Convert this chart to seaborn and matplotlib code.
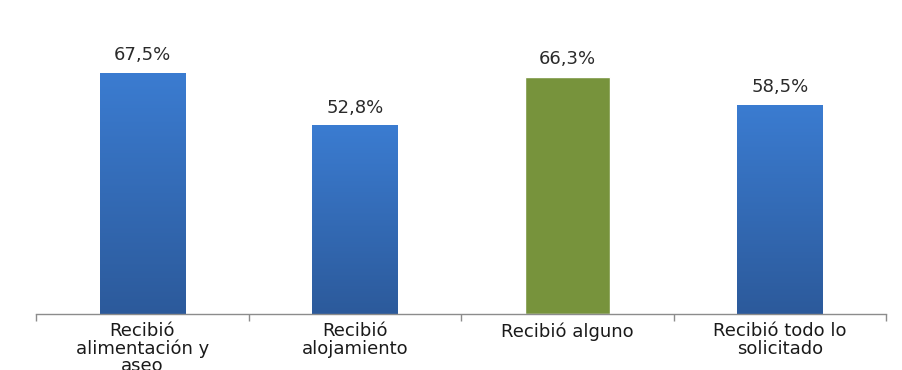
import numpy as np
import pandas as pd
import matplotlib
matplotlib.use('Agg')
import matplotlib.pyplot as plt
import seaborn as sns

categorias = ['Recibió\nalimentación y\naseo', 'Recibió\nalojamiento', 'Recibió alguno', 'Recibió todo lo\nsolicitado']
valores = [67.5, 52.8, 66.3, 58.5]
etiquetas = ['67,5%', '52,8%', '66,3%', '58,5%']
colores = ['#3474c6', '#3474c6', '#77933c', '#3474c6']

sns.set_theme(style='white')
plt.rcParams['font.family'] = ['DejaVu Sans']

df = pd.DataFrame({'cat': categorias, 'val': valores})

fig = plt.figure(figsize=(9.02, 3.70), dpi=100)
ax = fig.add_axes([0.0399, 0.1514, 0.9424, 0.7729])

sns.barplot(data=df, x='cat', y='val', hue='cat', palette=colores, legend=False,
            width=0.4, saturation=1, ax=ax)

# degradado vertical en las barras azules
grad_blue = matplotlib.colors.LinearSegmentedColormap.from_list('b', ['#2c5a9b', '#3b7cd1'])
for patch, col in zip(ax.patches, colores):
    if col != '#3474c6':
        continue
    x0, y0 = patch.get_x(), patch.get_y()
    w, h = patch.get_width(), patch.get_height()
    img = ax.imshow(np.linspace(0, 1, 256).reshape(-1, 1), cmap=grad_blue, origin='lower',
                    extent=[x0, x0 + w, y0, y0 + h], aspect='auto', zorder=patch.get_zorder() + 0.1)
    img.set_clip_path(patch)

ax.set_xlim(-0.5, 3.5)
ax.set_ylim(0, 80)

for i, (v, t) in enumerate(zip(valores, etiquetas)):
    ax.text(i, v + 2.4, t, ha='center', va='bottom', fontsize=13, color='#2a2a2a')

for s in ['top', 'right', 'left']:
    ax.spines[s].set_visible(False)
ax.spines['bottom'].set_color('#8c8c8c')
ax.spines['bottom'].set_linewidth(1.0)

ax.set_yticks([])
ax.set_xlabel('')
ax.set_ylabel('')
ax.set_xticks(range(len(categorias)))
ax.set_xticklabels(categorias, fontsize=13, color='#1a1a1a', linespacing=0.95)
ax.tick_params(axis='x', length=0, pad=6)
ax.set_xticks([-0.5, 0.5, 1.5, 2.5, 3.5], minor=True)
ax.tick_params(axis='x', which='minor', length=5, color='#8c8c8c', direction='out', bottom=True)

fig.savefig('out.png', dpi=100)
